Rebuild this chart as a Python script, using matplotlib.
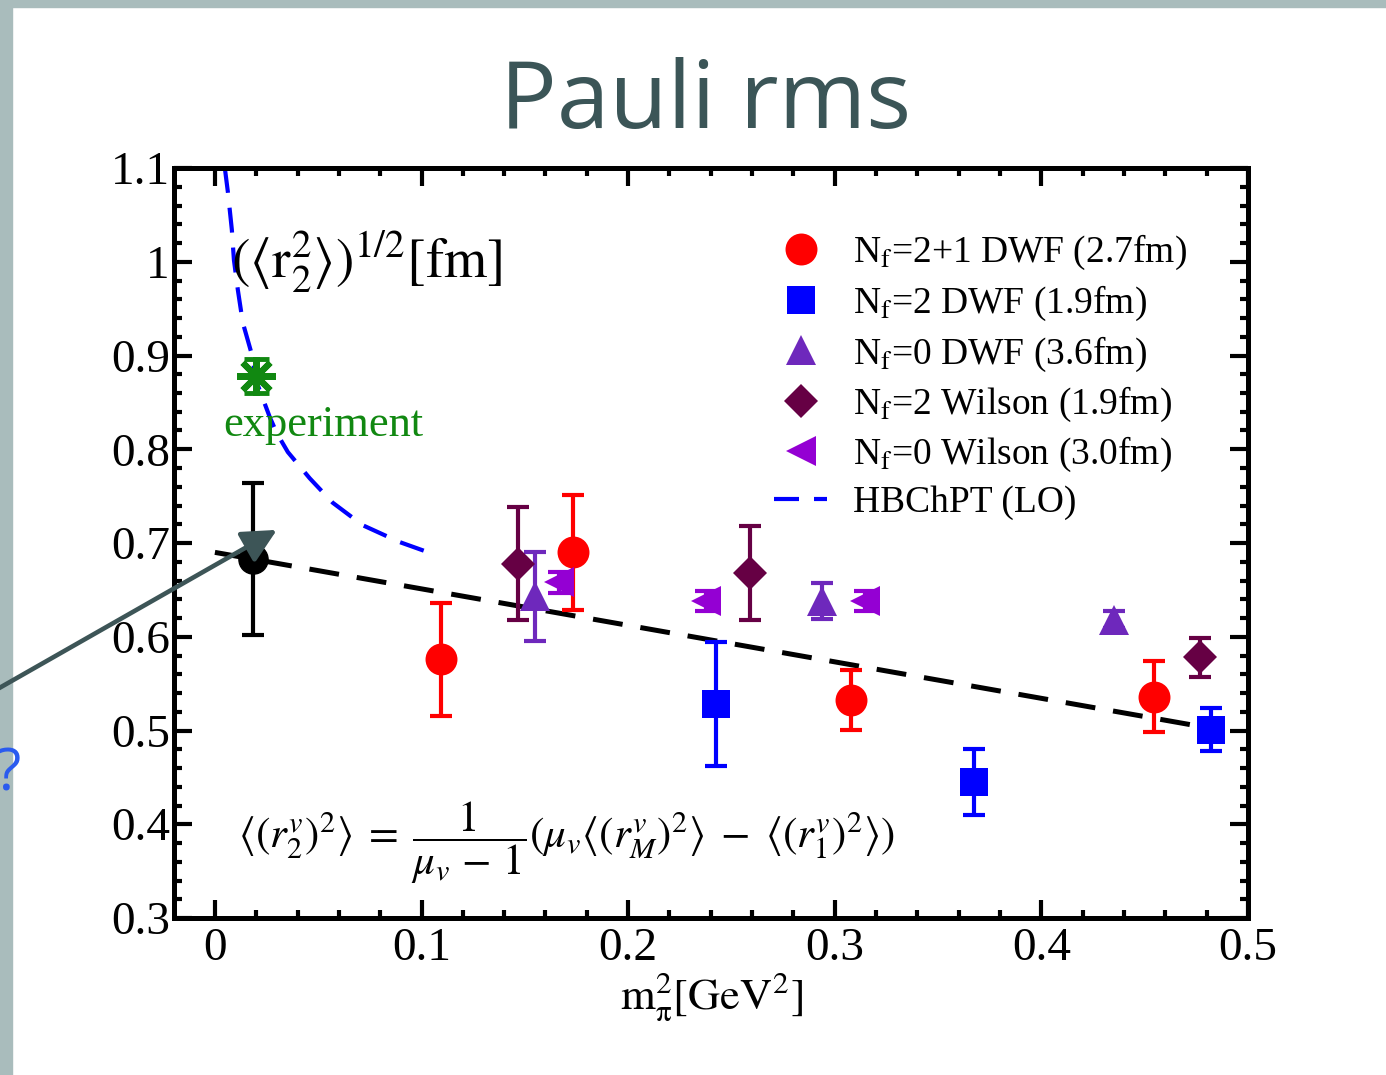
import matplotlib
matplotlib.use("Agg")
import matplotlib.pyplot as plt
from matplotlib.patches import Rectangle
from matplotlib.ticker import MultipleLocator

# --- data ---
nf21_x = [0.1092, 0.1734, 0.3080, 0.4546]
nf21_y = [0.576, 0.690, 0.533, 0.536]
nf21_err = [0.060, 0.061, 0.032, 0.038]

nf2_x = [0.2425, 0.3676, 0.4821]
nf2_y = [0.528, 0.445, 0.501]
nf2_err = [0.066, 0.035, 0.023]

nf0dwf_x = [0.1550, 0.2937, 0.4353]
nf0dwf_y = [0.643, 0.638, 0.618]
nf0dwf_err = [0.047, 0.019, 0.009]

nf2wil_x = [0.1469, 0.2589, 0.4768]
nf2wil_y = [0.678, 0.668, 0.578]
nf2wil_err = [0.060, 0.050, 0.021]

nf0wil_x = [0.1667, 0.2377, 0.3145]
nf0wil_y = [0.658, 0.638, 0.638]
nf0wil_err = [0.011, 0.011, 0.011]

phys_x = [0.0184]
phys_y = [0.683]
phys_err = [0.081]

exp_x = [0.0198]
exp_y = [0.878]
exp_err = [0.018]

hb_x = [0.0048, 0.0063, 0.0082, 0.0092, 0.0111, 0.0135, 0.0175, 0.0203,
        0.0266, 0.0300, 0.0353, 0.0459, 0.0570, 0.0715, 0.0894, 0.1072]
hb_y = [1.100, 1.074, 1.034, 1.002, 0.970, 0.935, 0.904, 0.871,
        0.834, 0.817, 0.797, 0.769, 0.743, 0.719, 0.701, 0.687]

fit_x = [0.0, 0.483]
fit_y = [0.690, 0.502]

labels = ["N$_\\mathrm{f}$=2+1 DWF (2.7fm)", "N$_\\mathrm{f}$=2 DWF (1.9fm)",
          "N$_\\mathrm{f}$=0 DWF (3.6fm)", "N$_\\mathrm{f}$=2 Wilson (1.9fm)",
          "N$_\\mathrm{f}$=0 Wilson (3.0fm)", "HBChPT (LO)"]

xticks = [0, 0.1, 0.2, 0.3, 0.4, 0.5]
xtick_labels = ["0", "0.1", "0.2", "0.3", "0.4", "0.5"]
yticks = [0.3, 0.4, 0.5, 0.6, 0.7, 0.8, 0.9, 1.0, 1.1]
ytick_labels = ["0.3", "0.4", "0.5", "0.6", "0.7", "0.8", "0.9", "1", "1.1"]

plt.rcParams["font.family"] = ["Liberation Serif", "DejaVu Serif"]
plt.rcParams["mathtext.fontset"] = "stix"

fig = plt.figure(figsize=(13.86, 10.75), dpi=100)
ax = fig.add_axes([174 / 1386, 1 - 918 / 1075, 1074 / 1386, 750 / 1075])
ax.set_zorder(1)
ax.patch.set_alpha(0)

# slide border
border = "#a9bcbc"
fig.patches.append(Rectangle((0, 1 - 7 / 1075), 1, 7 / 1075, transform=fig.transFigure,
                             color=border, zorder=-1))
fig.patches.append(Rectangle((0, 0), 12 / 1386, 1, transform=fig.transFigure,
                             color=border, zorder=-1))

series = [
    (nf21_x, nf21_y, nf21_err, "o", 23, "#ff0000"),
    (nf2_x, nf2_y, nf2_err, "s", 20, "#0000ff"),
    (nf0dwf_x, nf0dwf_y, nf0dwf_err, "^", 21, "#6e28bc"),
    (nf2wil_x, nf2wil_y, nf2wil_err, "D", 17, "#660044"),
    (nf0wil_x, nf0wil_y, nf0wil_err, "<", 22, "#9400d3"),
]

ax.plot(fit_x, fit_y, color="black", lw=3.6, dashes=(6.0, 3.6), zorder=2)

for (x, y, e, m, ms, c), lab in zip(series, labels):
    ax.errorbar(x, y, yerr=e, fmt="none", ecolor=c, elinewidth=3, capsize=8,
                capthick=3, zorder=3)
    ax.plot(x, y, ls="none", marker=m, ms=ms, color=c, mec=c, mew=0, label=lab,
            zorder=4)

ax.plot(hb_x, hb_y, color="#0000ff", lw=3, dashes=(6.0, 3.6), label=labels[5],
        zorder=2)

ax.errorbar(phys_x, phys_y, yerr=phys_err, fmt="o", ms=21, color="black",
            elinewidth=3, capsize=8, capthick=3, zorder=3)

ax.errorbar(exp_x, exp_y, yerr=exp_err, fmt="none", ecolor="#118811",
            elinewidth=3.5, capsize=9, capthick=3.5, zorder=5)
ax.plot(exp_x, exp_y, ls="none", marker=(8, 2, 0), ms=28, mew=4.5,
        color="#118811", zorder=5)

ax.set_xlim(-0.0198, 0.499)
ax.set_ylim(0.3, 1.1)
ax.set_xticks(xticks)
ax.set_xticklabels(xtick_labels)
ax.set_yticks(yticks)
ax.set_yticklabels(ytick_labels)
ax.xaxis.set_minor_locator(MultipleLocator(0.02))
ax.yaxis.set_minor_locator(MultipleLocator(0.02))
ax.tick_params(which="both", direction="in", top=True, right=True, width=3,
               labelsize=34)
ax.tick_params(which="major", length=13)
ax.tick_params(which="minor", length=6)
ax.tick_params(axis="y", pad=3)
ax.tick_params(axis="x", pad=7)
for s in ax.spines.values():
    s.set_linewidth(3.6)

ax.set_xlabel(r"$\mathrm{m}_{\mathrm{\pi}}^{2}[\mathrm{GeV}^{2}]$", fontsize=32,
              labelpad=0)

ax.text(0.008, 1.0, r"$(\langle\mathrm{r}_{2}^{2}\rangle)^{1/2}[\mathrm{fm}]$",
        fontsize=40, ha="left", va="center")
ax.text(0.004, 0.826, "experiment", fontsize=32, color="#118811", ha="left",
        va="center")
ax.text(0.011, 0.38,
        r"$\langle(r_2^v)^2\rangle\;=\;\dfrac{1}{\mu_v\,-\,1}(\mu_v\langle(r_M^v)^2\rangle\;-\;\langle(r_1^v)^2\rangle)$",
        fontsize=31, ha="left", va="center")

ax.legend(loc="upper left", bbox_to_anchor=(0.545, 0.933), frameon=False,
          fontsize=27, handlelength=1.4, handletextpad=0.7, labelspacing=0.3,
          borderaxespad=0, numpoints=1)

fig.text(706 / 1386, 1 - 128 / 1075, "Pauli rms", family="Open Sans", fontsize=68,
         color="#3b5557", ha="center", va="baseline")

fig.text(8 / 1386, 1 - 775 / 1075, "?", family="Open Sans", fontsize=42,
         color="#2a5bef", ha="center", va="center")

ax.annotate("", xy=(0.0300, 0.714), xycoords="data",
            xytext=(-20, 1075 - 699), textcoords="figure pixels",
            annotation_clip=False, zorder=6,
            arrowprops=dict(arrowstyle="-|>,head_length=0.8,head_width=0.4",
                            mutation_scale=26, lw=3.3, color="#3d5557",
                            shrinkA=0, shrinkB=0))

fig.savefig("out.png", dpi=100)
